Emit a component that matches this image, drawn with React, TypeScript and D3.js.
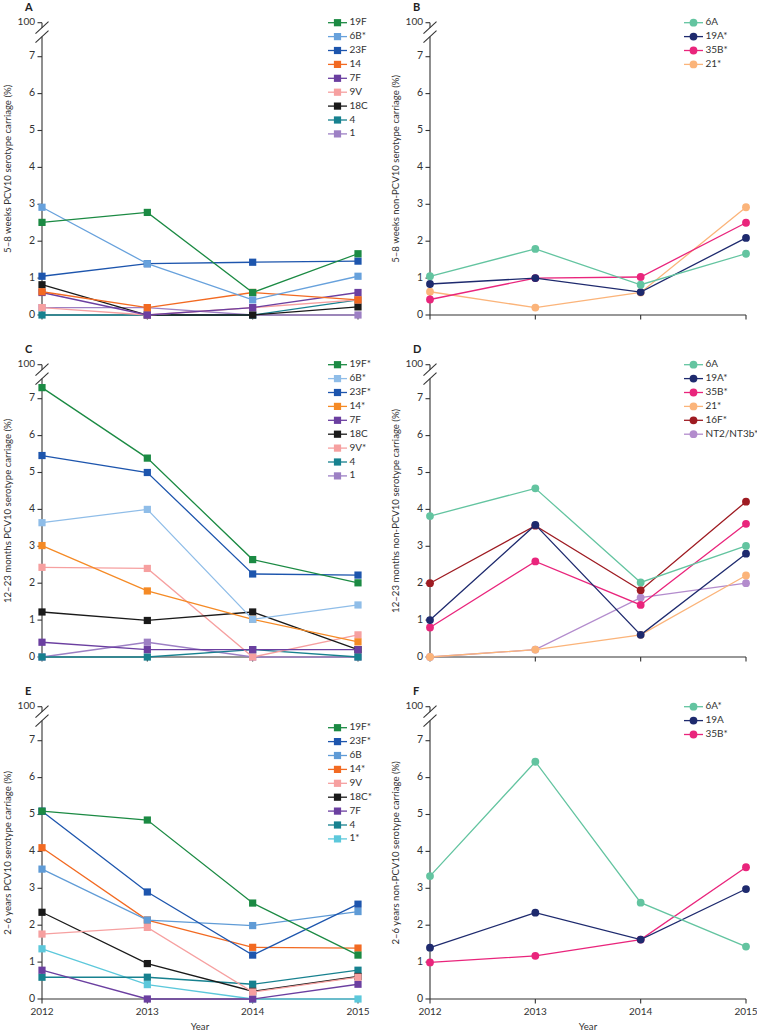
import React from "react";
import * as d3 from "d3";

// ---------- shared axes ----------
const years = [2012, 2013, 2014, 2015];
const yTicks = [0, 1, 2, 3, 4, 5, 6, 7];
const breakTick = "100";

// ---------- Panel A: 5–8 weeks PCV10 ----------
const aNames = ["19F", "6B*", "23F", "14", "7F", "9V", "18C", "4", "1"];
const aColors = ["#1b8a43", "#67a1dc", "#1d55ad", "#f26a22", "#6b3fa0", "#f6a0a0", "#1a1a1a", "#17818f", "#9d80c4"];
const a19F = [2.51, 2.78, 0.61, 1.66];
const a6B = [2.92, 1.39, 0.41, 1.05];
const a23F = [1.05, 1.39, 1.43, 1.46];
const a14 = [0.63, 0.2, 0.61, 0.41];
const a7F = [0.61, 0, 0.2, 0.61];
const a9V = [0.2, 0, 0.2, 0.41];
const a18C = [0.82, 0, 0, 0.22];
const a4 = [0, 0, 0, 0.41];
const a1 = [0.2, 0.2, 0, 0];

// ---------- Panel B: 5–8 weeks non-PCV10 ----------
const bNames = ["6A", "19A*", "35B*", "21*"];
const bColors = ["#63c4a0", "#1e2a6e", "#e9257c", "#fbb47a"];
const b6A = [1.05, 1.79, 0.82, 1.66];
const b19A = [0.84, 1.0, 0.62, 2.09];
const b35B = [0.42, 1.0, 1.03, 2.5];
const b21 = [0.63, 0.2, 0.61, 2.92];

// ---------- Panel C: 12–23 months PCV10 ----------
const cNames = ["19F*", "6B*", "23F*", "14*", "7F", "18C", "9V*", "4", "1"];
const cColors = ["#1b8a43", "#8fbde8", "#1d55ad", "#f58a25", "#6b3fa0", "#1a1a1a", "#f6a0a0", "#17818f", "#9d80c4"];
const c19F = [7.3, 5.39, 2.64, 2.01];
const c6B = [3.64, 4.0, 1.02, 1.41];
const c23F = [5.46, 5.0, 2.25, 2.22];
const c14 = [3.02, 1.79, 1.02, 0.41];
const c7F = [0.4, 0.2, 0.2, 0.2];
const c18C = [1.22, 0.99, 1.22, 0.2];
const c9V = [2.43, 2.4, 0, 0.6];
const c4 = [0, 0, 0.2, 0];
const c1 = [0, 0.4, 0, 0];

// ---------- Panel D: 12–23 months non-PCV10 ----------
const dNames = ["6A", "19A*", "35B*", "21*", "16F*", "NT2/NT3b*"];
const dColors = ["#63c4a0", "#1e2a6e", "#e9257c", "#fbb47a", "#9e1b22", "#b38ccd"];
const d6A = [3.82, 4.57, 2.02, 3.01];
const d19A = [1.0, 3.58, 0.6, 2.8];
const d35B = [0.8, 2.59, 1.41, 3.61];
const d21 = [0, 0.2, 0.6, 2.21];
const d16F = [2.0, 3.56, 1.81, 4.21];
const dNT = [0, 0.2, 1.61, 2.0];

// ---------- Panel E: 2–6 years PCV10 ----------
const eNames = ["19F*", "23F*", "6B", "14*", "9V", "18C*", "7F", "4", "1*"];
const eColors = ["#1b8a43", "#1d55ad", "#5f9bd6", "#f26a22", "#f6a0a0", "#1a1a1a", "#6b3fa0", "#17818f", "#5cc8db"];
const e19F = [5.09, 4.85, 2.6, 1.19];
const e23F = [5.09, 2.9, 1.19, 2.57];
const e6B = [3.52, 2.14, 1.99, 2.37];
const e14 = [4.1, 2.14, 1.4, 1.38];
const e9V = [1.76, 1.94, 0.19, 0.59];
const e18C = [2.35, 0.96, 0.21, 0.61];
const e7F = [0.78, 0, 0, 0.4];
const e4 = [0.59, 0.59, 0.4, 0.78];
const e1 = [1.36, 0.39, 0, 0];

// ---------- Panel F: 2–6 years non-PCV10 ----------
const fNames = ["6A*", "19A", "35B*"];
const fColors = ["#63c4a0", "#1e2a6e", "#e9257c"];
const f6A = [3.33, 6.43, 2.61, 1.42];
const f19A = [1.39, 2.34, 1.61, 2.98];
const f35B = [0.99, 1.17, 1.61, 3.57];

type Panel = {
  letter: string;
  title: string;
  names: string[];
  colors: string[];
  values: number[][];
  marker: "square" | "circle";
  col: number;
  row: number;
  legendShift: number;
  showYears: boolean;
};

const panels: Panel[] = [
  { letter: "A", title: "5–8 weeks PCV10 serotype carriage (%)", names: aNames, colors: aColors,
    values: [a19F, a6B, a23F, a14, a7F, a9V, a18C, a4, a1], marker: "square", col: 0, row: 0, legendShift: 0, showYears: false },
  { letter: "B", title: "5–8 weeks non-PCV10 serotype carriage (%)", names: bNames, colors: bColors,
    values: [b6A, b19A, b35B, b21], marker: "circle", col: 1, row: 0, legendShift: 0, showYears: false },
  { letter: "C", title: "12–23 months PCV10 serotype carriage (%)", names: cNames, colors: cColors,
    values: [c19F, c6B, c23F, c14, c7F, c18C, c9V, c4, c1], marker: "square", col: 0, row: 1, legendShift: 0, showYears: false },
  { letter: "D", title: "12–23 months non-PCV10 serotype carriage (%)", names: dNames, colors: dColors,
    values: [d6A, d19A, d35B, d21, d16F, dNT], marker: "circle", col: 1, row: 1, legendShift: 0, showYears: false },
  { letter: "E", title: "2–6 years PCV10 serotype carriage (%)", names: eNames, colors: eColors,
    values: [e19F, e23F, e6B, e14, e9V, e18C, e7F, e4, e1], marker: "square", col: 0, row: 2, legendShift: 21, showYears: true },
  { letter: "F", title: "2–6 years non-PCV10 serotype carriage (%)", names: fNames, colors: fColors,
    values: [f6A, f19A, f35B], marker: "circle", col: 1, row: 2, legendShift: 0, showYears: true },
];

const W = 757;
const H = 1032;
const colX0 = [42, 430];
const plotW = 316;
const rowY0 = [315, 657, 999];
const unit = 36.9;
const FONT = "Lato, 'Open Sans', sans-serif";
const INK = "#333";

function Marker({ kind, x, y, color }: { kind: string; x: number; y: number; color: string }) {
  if (kind === "square") return <rect x={x - 3.6} y={y - 3.6} width={7.2} height={7.2} fill={color} />;
  return <circle cx={x} cy={y} r={3.9} fill={color} />;
}

function PanelView({ p }: { p: Panel }) {
  const x0 = colX0[p.col];
  const x1 = x0 + plotW;
  const y0 = rowY0[p.row];
  const y = d3.scaleLinear().domain([0, 7]).range([y0, y0 - 7 * unit]);
  const x = d3.scaleLinear().domain([years[0], years[years.length - 1]]).range([x0, x1]);
  const y100 = y(7) - 34;
  const line = d3.line<number>().x((_, i) => x(years[i])).y((v) => y(v));
  const order = p.values.map((_, i) => i).reverse();
  const legX = p.col === 0 ? 328 : 684;
  const legY0 = y100 + p.legendShift;

  return (
    <g>
      <text x={x0 - 17} y={y100 - 12} fontSize={11} fontWeight="bold" fill="#222" fontFamily={FONT}>{p.letter}</text>
      {/* y axis with break */}
      <line x1={x0} x2={x0} y1={y100} y2={y100 + 5} stroke={INK} strokeWidth={1.1} />
      <line x1={x0} x2={x0} y1={y100 + 14} y2={y0} stroke={INK} strokeWidth={1.1} />
      <line x1={x0 - 6.5} y1={y100 + 11} x2={x0 + 6.5} y2={y100 - 1} stroke={INK} strokeWidth={1.1} />
      <line x1={x0 - 6.5} y1={y100 + 20} x2={x0 + 6.5} y2={y100 + 8} stroke={INK} strokeWidth={1.1} />
      <line x1={x0 - 4.5} x2={x0} y1={y100} y2={y100} stroke={INK} strokeWidth={1.1} />
      <text x={x0 - 7} y={y100} fontSize={10} fill={INK} textAnchor="end" dominantBaseline="middle" fontFamily={FONT}>{breakTick}</text>
      {yTicks.map((t) => (
        <g key={t}>
          <line x1={x0 - 4.5} x2={x0} y1={y(t)} y2={y(t)} stroke={INK} strokeWidth={1.1} />
          <text x={x0 - 7} y={y(t)} fontSize={10.5} fill={INK} textAnchor="end" dominantBaseline="middle" fontFamily={FONT}>{t}</text>
        </g>
      ))}
      <text transform={`translate(${x0 - 31},${(y100 + y0) / 2}) rotate(-90)`} fontSize={9.6} fill={INK} textAnchor="middle" fontFamily={FONT}>{p.title}</text>
      {/* x axis */}
      <line x1={x0} x2={x1} y1={y0} y2={y0} stroke={INK} strokeWidth={1.1} />
      {years.map((yr) => (
        <g key={yr}>
          <line x1={x(yr)} x2={x(yr)} y1={y0} y2={y0 + 4.5} stroke={INK} strokeWidth={1.1} />
          {p.showYears && (
            <text x={x(yr)} y={y0 + 16} fontSize={10} fill={INK} textAnchor="middle" fontFamily={FONT}>{yr}</text>
          )}
        </g>
      ))}
      {p.showYears && (
        <text x={(x0 + x1) / 2} y={y0 + 31} fontSize={9.6} fill={INK} textAnchor="middle" fontFamily={FONT}>Year</text>
      )}
      {/* series */}
      {order.map((i) => (
        <g key={p.names[i]}>
          <path d={line(p.values[i]) || ""} fill="none" stroke={p.colors[i]} strokeWidth={1.3} />
          {p.values[i].map((v, j) => (
            <Marker key={j} kind={p.marker} x={x(years[j])} y={y(v)} color={p.colors[i]} />
          ))}
        </g>
      ))}
      {/* legend */}
      {p.names.map((n, i) => {
        const ly = legY0 + i * 13.9;
        return (
          <g key={n}>
            <line x1={legX} x2={legX + 19} y1={ly} y2={ly} stroke={p.colors[i]} strokeWidth={1.3} />
            <Marker kind={p.marker} x={legX + 9.5} y={ly} color={p.colors[i]} />
            <text x={legX + 21.5} y={ly} fontSize={10} fill={INK} dominantBaseline="middle" fontFamily={FONT}>{n}</text>
          </g>
        );
      })}
    </g>
  );
}

export default function App() {
  return (
    <svg width={W} height={H} viewBox={`0 0 ${W} ${H}`} style={{ position: "absolute", left: 0, top: 0, background: "#fff" }}>
      <rect width={W} height={H} fill="#fff" />
      {panels.map((p) => (
        <PanelView key={p.letter} p={p} />
      ))}
    </svg>
  );
}
